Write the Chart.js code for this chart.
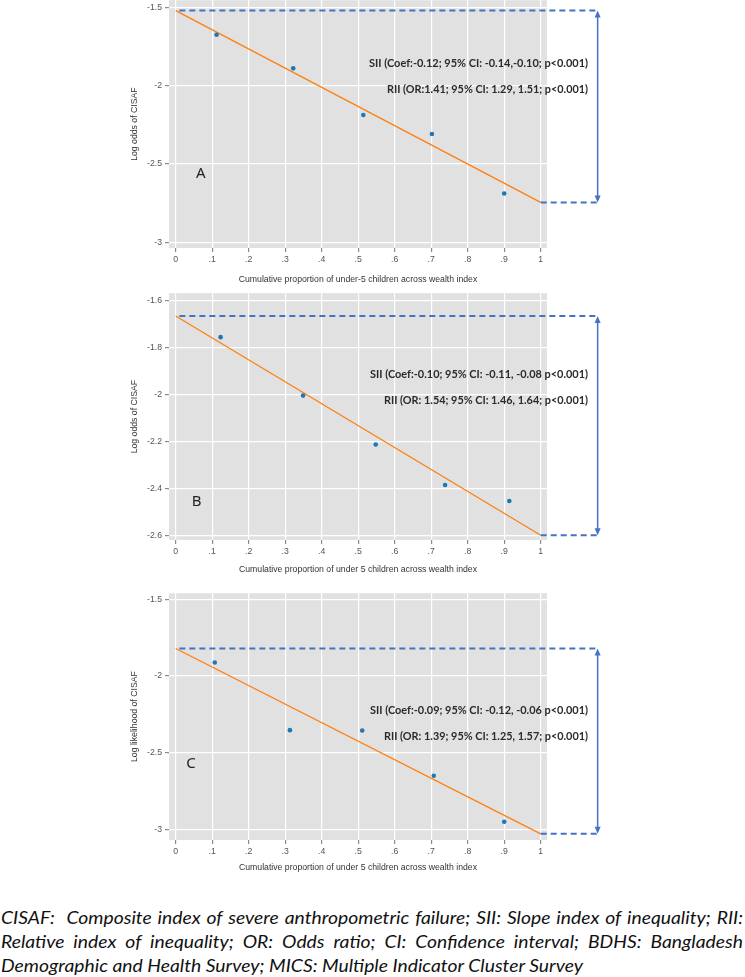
<!DOCTYPE html>
<html>
<head>
<meta charset="utf-8">
<title>CISAF inequality</title>
<script src="https://cdn.jsdelivr.net/npm/chart.js@4.4.1/dist/chart.umd.min.js"></script>
<style>
  body { margin: 0; background: #fff; width: 745px; height: 977px; position: relative; overflow: hidden; }
  .panel { position: absolute; left: 0; }
  #caption { position: absolute; left: 1px; top: 905px; transform-origin: 0 0;
    font-family: Lato, "Noto Sans", sans-serif; font-style: italic; font-size: 18px; line-height: 24px; color: #111; }
  #caption .j { text-align: justify; text-align-last: justify; white-space: nowrap; }
  #caption .l { white-space: nowrap; }
</style>
</head>
<body>
<div class="panel" id="wrapA"><canvas id="chartA" width="745" height="297"></canvas></div>
<div class="panel" id="wrapB"><canvas id="chartB" width="745" height="294"></canvas></div>
<div class="panel" id="wrapC"><canvas id="chartC" width="745" height="292"></canvas></div>
<div id="caption">
  <div class="j">CISAF:&nbsp; Composite index of severe anthropometric failure; SII: Slope index of inequality; RII:</div>
  <div class="j">Relative index of inequality; OR: Odds ratio; CI: Confidence interval; BDHS: Bangladesh</div>
  <div class="l" id="lastLine">Demographic and Health Survey; MICS: Multiple Indicator Cluster Survey</div>
</div>
<script>
// shared x axis
const xTicks = [0, 0.1, 0.2, 0.3, 0.4, 0.5, 0.6, 0.7, 0.8, 0.9, 1];
const xTickLabels = ['0', '.1', '.2', '.3', '.4', '.5', '.6', '.7', '.8', '.9', '1'];
const fitEnds = [0, 1];

// panel A (BDHS)
const propA = [0.112, 0.322, 0.514, 0.702, 0.900];
const logOddsA = [-1.674, -1.889, -2.187, -2.308, -2.688];
const fitA = [-1.52, -2.745];
const yTicksA = [-3, -2.5, -2, -1.5];
const yLabelsA = ['-3', '-2.5', '-2', '-1.5'];
const siiA = 'SII (Coef:-0.12; 95% CI: -0.14,-0.10; p<0.001)';
const riiA = 'RII (OR:1.41; 95% CI: 1.29, 1.51; p<0.001)';

// panel B
const propB = [0.123, 0.349, 0.548, 0.738, 0.914];
const logOddsB = [-1.754, -2.003, -2.211, -2.384, -2.452];
const fitB = [-1.664, -2.598];
const yTicksB = [-2.6, -2.4, -2.2, -2, -1.8, -1.6];
const yLabelsB = ['-2.6', '-2.4', '-2.2', '-2', '-1.8', '-1.6'];
const siiB = 'SII (Coef:-0.10; 95% CI: -0.11, -0.08 p<0.001)';
const riiB = 'RII (OR: 1.54; 95% CI: 1.46, 1.64; p<0.001)';

// panel C
const propC = [0.107, 0.313, 0.511, 0.707, 0.900];
const logLikC = [-1.911, -2.353, -2.355, -2.651, -2.951];
const fitC = [-1.82, -3.03];
const yTicksC = [-3, -2.5, -2, -1.5];
const yLabelsC = ['-3', '-2.5', '-2', '-1.5'];
const siiC = 'SII (Coef:-0.09; 95% CI: -0.12, -0.06 p<0.001)';
const riiC = 'RII (OR: 1.39; 95% CI: 1.25, 1.57; p<0.001)';

Chart.defaults.font.family = '"Liberation Sans", Arial, sans-serif';
Chart.defaults.animation = false;

// grey panel, gap arrow and the SII / RII notes
const panelDecor = {
  id: 'panelDecor',
  beforeDraw(chart) {
    const { ctx, chartArea: a } = chart;
    ctx.save();
    ctx.fillStyle = '#e1e1e1';
    ctx.fillRect(a.left, a.top, a.right - a.left, a.bottom - a.top);
    ctx.restore();
  },
  afterDatasetsDraw(chart, args, o) {
    const { ctx } = chart;
    const x = chart.scales.x, y = chart.scales.y;
    const yTop = y.getPixelForValue(o.fit[0]);
    const yBot = y.getPixelForValue(o.fit[1]);
    const xs = x.getPixelForValue(0.01);
    const x1 = x.getPixelForValue(1);
    const xa = x.getPixelForValue(1.156);
    ctx.save();
    ctx.strokeStyle = '#4472c4';
    ctx.fillStyle = '#4472c4';
    ctx.lineWidth = 2;
    ctx.setLineDash([6, 4]);
    ctx.beginPath();
    ctx.moveTo(xs, yTop); ctx.lineTo(xa, yTop);
    ctx.moveTo(x1, yBot); ctx.lineTo(xa, yBot);
    ctx.stroke();
    ctx.setLineDash([]);
    ctx.lineWidth = 1.5;
    ctx.beginPath();
    ctx.moveTo(xa, yTop + 4); ctx.lineTo(xa, yBot - 4);
    ctx.stroke();
    ctx.beginPath();
    ctx.moveTo(xa, yTop); ctx.lineTo(xa - 3, yTop + 7); ctx.lineTo(xa + 3, yTop + 7); ctx.closePath();
    ctx.moveTo(xa, yBot); ctx.lineTo(xa - 3, yBot - 7); ctx.lineTo(xa + 3, yBot - 7); ctx.closePath();
    ctx.fill();

    ctx.fillStyle = '#2b2b2b';
    ctx.font = '700 11px Lato, "Noto Sans", sans-serif';
    ctx.textAlign = 'right';
    ctx.textBaseline = 'middle';
    const xt = x.getPixelForValue(1.1296);
    ctx.fillText(o.sii, xt, y.getPixelForValue(o.siiAt), o.siiW);
    ctx.fillText(o.rii, xt, y.getPixelForValue(o.riiAt), o.riiW);

    ctx.fillStyle = '#222';
    ctx.font = '15px "Noto Sans", sans-serif';
    ctx.textAlign = 'center';
    ctx.fillText(o.letter, x.getPixelForValue(o.letterAt[0]), y.getPixelForValue(o.letterAt[1]));
    ctx.restore();
  }
};

function makePanel(id, p) {
  return new Chart(document.getElementById(id), {
    type: 'scatter',
    data: {
      datasets: [
        {
          data: p.px.map((v, i) => ({ x: v, y: p.py[i] })),
          backgroundColor: '#1f77b4', borderColor: '#1f77b4',
          pointRadius: 2.3, pointBorderWidth: 0
        },
        {
          type: 'line',
          data: fitEnds.map((v, i) => ({ x: v, y: p.fit[i] })),
          borderColor: '#ff7f0e', borderWidth: 1.3, pointRadius: 0, fill: false
        }
      ]
    },
    options: {
      responsive: false,
      layout: { padding: { left: 125, right: 198, top: 8, bottom: 0 } },
      plugins: {
        legend: { display: false },
        tooltip: { enabled: false },
        panelDecor: p.decor
      },
      scales: {
        x: {
          type: 'linear', min: -0.01836, max: 1.01726,
          afterBuildTicks: s => { s.ticks = xTicks.map(v => ({ value: v })); },
          afterFit: s => { s.height = p.xh; },
          ticks: {
            autoSkip: false, maxRotation: 0, padding: 2, color: '#555',
            font: { size: 8.7 },
            callback: v => xTickLabels[xTicks.indexOf(v)]
          },
          grid: { color: '#ffffff', lineWidth: 1.2, tickColor: '#8a8a8a', tickLength: 4 },
          border: { display: false },
          title: { display: true, text: p.xTitle, color: '#333', font: { size: 8.7 }, padding: { top: 4, bottom: 4 } }
        },
        y: {
          type: 'linear', min: p.ymin, max: p.ymax,
          afterBuildTicks: s => { s.ticks = p.yTicks.map(v => ({ value: v })); },
          afterFit: s => { s.width = 44; },
          ticks: {
            autoSkip: false, padding: 3, color: '#555',
            font: { size: 8.7 },
            callback: v => p.yLabels[p.yTicks.indexOf(v)]
          },
          grid: { color: '#ffffff', lineWidth: 1.2, tickColor: '#8a8a8a', tickLength: 4 },
          border: { display: false },
          title: { display: true, text: p.yTitle, color: '#333', font: { size: 8.7 }, padding: { top: 4, bottom: 4 } }
        }
      }
    },
    plugins: [panelDecor]
  });
}

function place(wrapId, chart, areaTop) {
  document.getElementById(wrapId).style.top = (areaTop - chart.chartArea.top) + 'px';
}

const chartA = makePanel('chartA', {
  px: propA, py: logOddsA, fit: fitA, yTicks: yTicksA, yLabels: yLabelsA,
  ymin: -3.036, ymax: -1.454, xh: 41,
  xTitle: 'Cumulative proportion of under-5 children across wealth index',
  yTitle: 'Log odds of CISAF',
  decor: { fit: fitA, sii: siiA, rii: riiA, siiAt: -1.855, riiAt: -2.025, siiW: 219, riiW: 201,
           letter: 'A', letterAt: [0.069, -2.565] }
});
place('wrapA', chartA, 0);

const chartB = makePanel('chartB', {
  px: propB, py: logOddsB, fit: fitB, yTicks: yTicksB, yLabels: yLabelsB,
  ymin: -2.618, ymax: -1.567, xh: 39,
  xTitle: 'Cumulative proportion of under 5 children across wealth index',
  yTitle: 'Log odds of CISAF',
  decor: { fit: fitB, sii: siiB, rii: riiB, siiAt: -1.912, riiAt: -2.0225, siiW: 218, riiW: 204,
           letter: 'B', letterAt: [0.057, -2.455] }
});
place('wrapB', chartB, 293);

const chartC = makePanel('chartC', {
  px: propC, py: logLikC, fit: fitC, yTicks: yTicksC, yLabels: yLabelsC,
  ymin: -3.070, ymax: -1.459, xh: 37,
  xTitle: 'Cumulative proportion of under 5 children across wealth index',
  yTitle: 'Log likelihood of CISAF',
  decor: { fit: fitC, sii: siiC, rii: riiC, siiAt: -2.227, riiAt: -2.396, siiW: 218, riiW: 204,
           letter: 'C', letterAt: [0.042, -2.574] }
});
place('wrapC', chartC, 593);

// squeeze the caption so its last line ends where the reference's does
(function fitCaption() {
  const cap = document.getElementById('caption');
  const last = document.getElementById('lastLine');
  const r = document.createRange();
  r.selectNodeContents(last);
  const w = r.getBoundingClientRect().width;
  const s = 582 / w;
  cap.style.width = (742 / s) + 'px';
  cap.style.transform = 'scaleX(' + s + ')';
})();
</script>
</body>
</html>
